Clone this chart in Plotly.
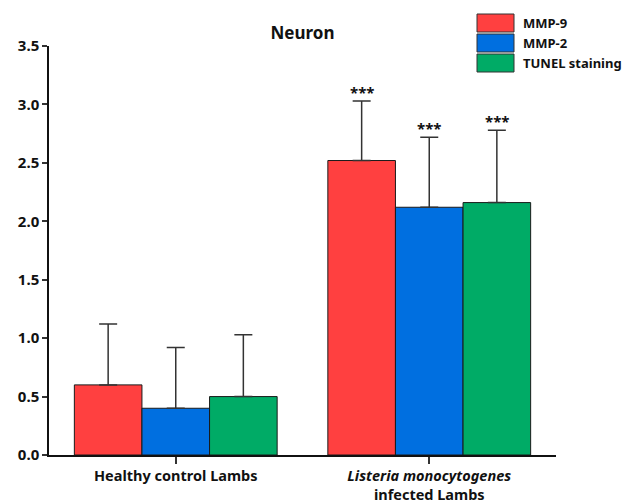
import plotly.graph_objects as go

categories = ["Healthy control Lambs", "<i>Listeria monocytogenes</i><br>infected Lambs"]
series_names = ["MMP-9", "MMP-2", "TUNEL staining"]
mmp9 = [0.60, 2.52]
mmp2 = [0.40, 2.12]
tunel = [0.50, 2.16]
mmp9_err = [0.52, 0.51]
mmp2_err = [0.52, 0.60]
tunel_err = [0.53, 0.62]
sig_labels = ["", "***"]
y_ticks = [0.0, 0.5, 1.0, 1.5, 2.0, 2.5, 3.0, 3.5]

colors = ["#FF4040", "#006FE0", "#00AB66"]
FONT = "Noto Sans"

L, R, T, B = 49, 67, 46, 49
W, H = 623, 504
PW, PH = W - L - R, H - T - B

fig = go.Figure()
values = [mmp9, mmp2, tunel]
errors = [mmp9_err, mmp2_err, tunel_err]
for name, vals, errs, col in zip(series_names, values, errors, colors):
    fig.add_trace(go.Bar(
        x=categories, y=vals, name=name,
        marker=dict(color=col, line=dict(color="#1a1a1a", width=1)),
        error_y=dict(type="data", array=errs, arrayminus=[0] * len(errs), symmetric=False,
                     color="#333333", thickness=1.5, width=9),
        showlegend=False,
    ))

# significance markers, placed through the axes
bar_px = PW / 2 * 0.8 / 3
offsets = [-1, 0, 1]
for k, (vals, errs) in enumerate(zip(values, errors)):
    for i, cat in enumerate(categories):
        if sig_labels[i]:
            fig.add_annotation(
                x=i, y=vals[i] + errs[i], xref="x", yref="y",
                xshift=offsets[k] * bar_px, yshift=-3,
                text="<b>" + sig_labels[i] + "</b>", showarrow=False,
                yanchor="bottom", font=dict(family=FONT, size=15, color="#111111"),
            )

# legend drawn as boxes + labels
def px(p):
    return (p - L) / PW

def py(p):
    return (H - B - p) / PH

for j, (name, col) in enumerate(zip(series_names, colors)):
    top_px = 14 + j * 20
    bot_px = 32 + j * 20
    fig.add_shape(type="rect", xref="paper", yref="paper",
                  x0=px(477), x1=px(514), y0=py(bot_px), y1=py(top_px),
                  fillcolor=col, line=dict(color="#333333", width=1))
    fig.add_annotation(xref="paper", yref="paper", x=px(521), y=py((top_px + bot_px) / 2),
                       text="<b>" + name + "</b>", showarrow=False, xanchor="left", yanchor="middle",
                       font=dict(family=FONT, size=13, color="#111111"))

fig.update_layout(
    width=W, height=H,
    margin=dict(l=L, r=R, t=T, b=B, autoexpand=False),
    paper_bgcolor="white", plot_bgcolor="white",
    barmode="group", bargap=0.2, bargroupgap=0,
    title=dict(text="<b>Neuron</b>", x=(L + PW / 2) / W, xanchor="center", y=1 - 33 / H, yanchor="middle",
               font=dict(family=FONT, size=17, color="#111111")),
    font=dict(family=FONT, color="#111111"),
    xaxis=dict(range=[-0.5, 1.5], showline=True, linecolor="#111111", linewidth=2,
               ticks="outside", ticklen=7, tickcolor="#333333", tickwidth=1.5,
               tickfont=dict(family=FONT, size=14.5, color="#111111"), automargin=False,
               tickprefix="<b>", ticksuffix="</b>", showgrid=False, zeroline=False),
    yaxis=dict(range=[0, 3.5], tickvals=y_ticks, ticktext=["<b>%.1f</b>" % v for v in y_ticks],
               showline=True, linecolor="#111111", linewidth=1.5, automargin=False,
               ticks="outside", ticklen=5, tickcolor="#333333", tickwidth=1.5,
               tickfont=dict(family=FONT, size=15, color="#111111"),
               showgrid=False, zeroline=False),
)

fig.write_html("out.html", config={"displayModeBar": False},
               post_script="document.body.style.margin='0px';")
